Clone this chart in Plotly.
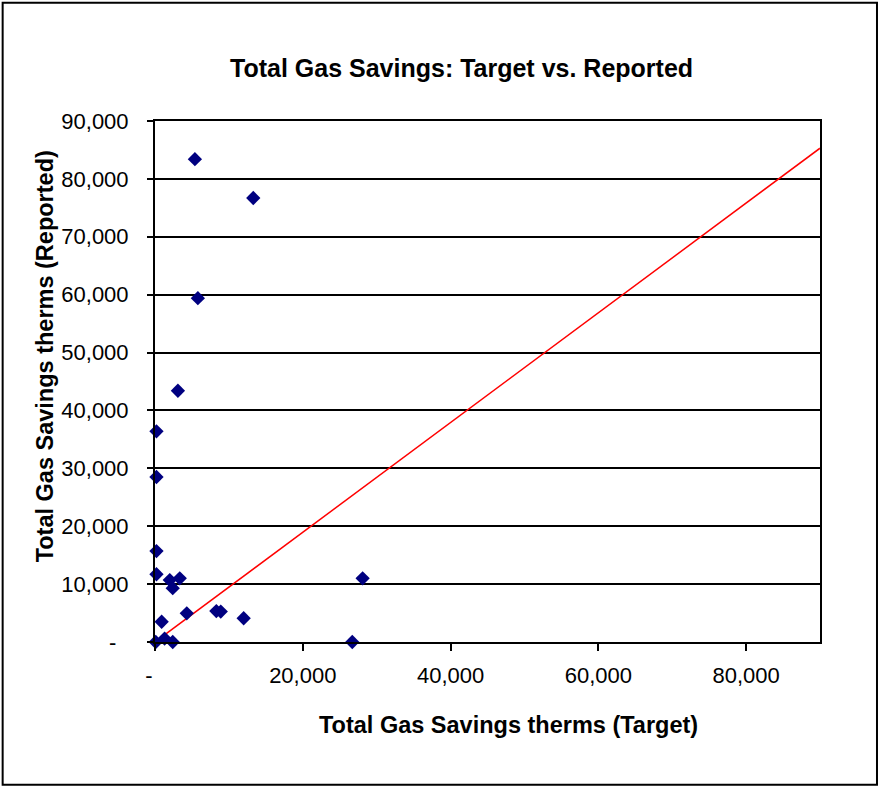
import plotly.graph_objects as go

# Data
target = [5400, 13300, 5800, 3100, 200, 200, 200, 200, 2000, 3350, 2400,
          900, 4300, 8300, 8900, 12000, 28100, 26700, 100, 1300, 2400]
reported = [83400, 76700, 59400, 43400, 36400, 28500, 15700, 11700, 10700, 11000, 9300,
            3500, 4950, 5350, 5250, 4100, 11000, 0, 0, 600, 0]

ref_x = [0, 90000]
ref_y = [0, 85300]

x_tickvals = [0, 20000, 40000, 60000, 80000]
x_ticktext = ["-\u00a0\u00a0", "20,000", "40,000", "60,000", "80,000"]
y_tickvals = [0, 10000, 20000, 30000, 40000, 50000, 60000, 70000, 80000, 90000]
y_ticktext = ["-\u00a0\u00a0", "10,000", "20,000", "30,000", "40,000", "50,000",
              "60,000", "70,000", "80,000", "90,000"]

FONT = "Liberation Sans, Arial, sans-serif"

fig = go.Figure()
fig.add_trace(go.Scatter(x=ref_x, y=ref_y, mode="lines",
                         line=dict(color="#ff0000", width=1.5),
                         cliponaxis=False, hoverinfo="skip", showlegend=False))
fig.add_trace(go.Scatter(x=target, y=reported, mode="markers",
                         marker=dict(symbol="diamond", size=11, color="#000080",
                                     line=dict(width=0)),
                         cliponaxis=False, showlegend=False))

fig.update_layout(
    width=880, height=788,
    margin=dict(l=155, r=60, t=121, b=146),
    paper_bgcolor="white", plot_bgcolor="white",
    font=dict(family=FONT, color="black"),
    showlegend=False,
)

fig.update_xaxes(range=[0, 90000], tickvals=x_tickvals, ticktext=x_ticktext,
                 showgrid=False, zeroline=False,
                 showline=True, linecolor="black", linewidth=2, mirror=True,
                 ticks="outside", ticklen=7, tickcolor="black", tickwidth=2,
                 tickfont=dict(size=22, family=FONT, color="black"),
                 ticklabelstandoff=6)
fig.update_yaxes(range=[0, 90000], tickvals=y_tickvals, ticktext=y_ticktext,
                 showgrid=True, gridcolor="black", gridwidth=1.5, zeroline=False,
                 showline=True, linecolor="black", linewidth=2, mirror=True,
                 ticks="outside", ticklen=6, tickcolor="black", tickwidth=2,
                 tickfont=dict(size=22, family=FONT, color="black"),
                 ticklabelstandoff=14)

fig.add_annotation(text="<b>Total Gas Savings: Target vs. Reported</b>",
                   xref="paper", yref="paper", x=0.4614, y=1.1026,
                   xanchor="center", yanchor="middle", showarrow=False,
                   font=dict(size=25, family=FONT, color="black"))
fig.add_annotation(text="<b>Total Gas Savings therms (Target)</b>",
                   xref="paper", yref="paper", x=0.532, y=-0.159,
                   xanchor="center", yanchor="middle", showarrow=False,
                   font=dict(size=23.5, family=FONT, color="black"))
fig.add_annotation(text="<b>Total Gas Savings therms (Reported)</b>",
                   xref="paper", yref="paper", x=-0.166, y=0.5475,
                   xanchor="center", yanchor="middle", showarrow=False, textangle=-90,
                   font=dict(size=23.5, family=FONT, color="black"))

fig.add_shape(type="rect", xref="paper", yref="paper",
              x0=-0.2291, x1=1.0857, y0=-0.2742, y1=1.2272,
              line=dict(color="black", width=2), fillcolor="rgba(0,0,0,0)", layer="below")

fig.write_html("out.html", config={"displayModeBar": False},
               post_script="document.body.style.margin='0';document.body.style.padding='0';")
